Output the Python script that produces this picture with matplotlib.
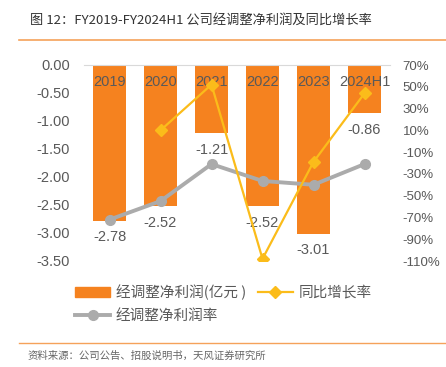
import numpy as np
import matplotlib.pyplot as plt
from matplotlib.lines import Line2D
from matplotlib.patches import Patch

plt.rcParams['font.family'] = ['Liberation Sans', 'Noto Sans CJK SC', 'DejaVu Sans']

# 数据
years = ['2019', '2020', '2021', '2022', '2023', '2024H1']
profit = [-2.78, -2.52, -1.21, -2.52, -3.01, -0.86]          # 经调整净利润(亿元)
yoy = [np.nan, 10, 52, -108, -19, 44]                        # 同比增长率 %
margin = [-72, -55, -21, -36.5, -40, -21]                    # 经调整净利润率 %

orange = '#F5821F'
yellow = '#FBBC1A'
gray = '#ABABAB'
txt = '#595959'

fig = plt.figure(figsize=(4.46, 3.67), dpi=100)

# 标题和分隔线
fig.text(30 / 446, 1 - 20 / 367, '图 12：FY2019-FY2024H1 公司经调整净利润及同比增长率',
         fontsize=9.5, color='#333333', fontweight='medium', va='center',
         family=['Noto Sans CJK SC', 'DejaVu Sans'])
fig.add_artist(Line2D([19 / 446, 1], [1 - 40 / 367] * 2, color='#F5A25A', lw=1.2))
fig.add_artist(Line2D([19 / 446, 1], [1 - 343 / 367] * 2, color='#F5A25A', lw=1.0))
fig.text(28 / 446, 1 - 356 / 367, '资料来源：公司公告、招股说明书，天风证券研究所',
         fontsize=7.5, color='#666666', va='center',
         family=['Noto Sans CJK SC', 'DejaVu Sans'])

ax = fig.add_axes([84 / 446, 1 - 261 / 367, 306 / 446, 196 / 367])
x = np.arange(len(years))
ax.bar(x, profit, width=0.63, color=orange, zorder=2)
ax.set_ylim(-3.5, 0)
ax.set_xlim(-0.5, len(years) - 0.5)
ax.set_yticks(np.arange(-3.5, 0.01, 0.5))
ax.set_yticklabels(['%.2f' % v for v in np.arange(-3.5, 0.01, 0.5)])
ax.tick_params(axis='y', length=0, labelsize=10.5, colors=txt, pad=10)
ax.set_xticks([])
for s in ['left', 'right', 'bottom']:
    ax.spines[s].set_visible(False)
ax.spines['top'].set_color('#D9D9D9')

for i, (yr, v) in enumerate(zip(years, profit)):
    ax.text(i, -0.3, yr, ha='center', va='center', fontsize=10.5, color=txt, zorder=5)
    ax.text(i, v - 0.3, '%.2f' % v, ha='center', va='center', fontsize=10.5, color=txt)

ax2 = ax.twinx()
ax2.set_ylim(-110, 70)
ax2.plot(x, margin, color=gray, lw=2.8, marker='o', ms=7, zorder=3)
ax2.plot(x, yoy, color=yellow, lw=1.6, marker='D', ms=6, zorder=4)
ax2.set_yticks(np.arange(-110, 71, 20))
ax2.set_yticklabels(['%d%%' % v for v in np.arange(-110, 71, 20)])
ax2.tick_params(axis='y', length=0, labelsize=9.5, colors=txt, pad=9)
for s in ['left', 'right', 'bottom', 'top']:
    ax2.spines[s].set_visible(False)

handles = [Patch(color=orange),
           Line2D([], [], color=gray, lw=2.8, marker='o', ms=7),
           Line2D([], [], color=yellow, lw=1.6, marker='D', ms=6)]
labels = ['经调整净利润(亿元 )', '经调整净利润率', '同比增长率']
fig.legend(handles, labels, ncol=2, loc='upper left',
           bbox_to_anchor=(62 / 446, 1 - 271 / 367), frameon=False,
           prop={'family': ['Noto Sans CJK SC', 'DejaVu Sans'], 'size': 10.5},
           labelcolor=txt, handlelength=2.4, columnspacing=0.8, handletextpad=0.4,
           labelspacing=0.65)

fig.savefig('out.png', dpi=100)
